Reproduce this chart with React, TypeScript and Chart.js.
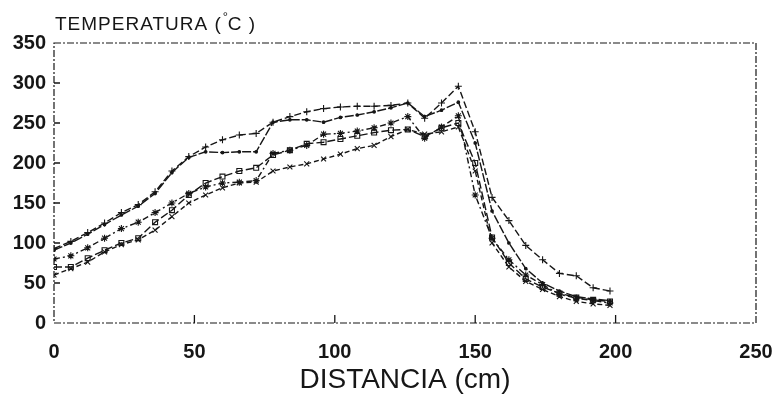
import React, { useEffect, useRef } from "react";
import { Chart, registerables } from "chart.js";

Chart.register(...registerables);

const distances = [0, 6, 12, 18, 24, 30, 36, 42, 48, 54, 60, 66, 72, 78, 84, 90, 96, 102, 108, 114, 120, 126, 132, 138, 144, 150, 156, 162, 168, 174, 180, 186, 192, 198];

const seriesPlus = [93, 102, 113, 125, 138, 148, 164, 190, 208, 220, 229, 235, 237, 251, 258, 264, 268, 270, 271, 271, 272, 275, 256, 275, 296, 239, 157, 128, 97, 79, 62, 59, 44, 40];
const seriesDot = [91, 100, 111, 123, 135, 146, 162, 188, 207, 214, 213, 214, 214, 251, 254, 254, 251, 257, 260, 264, 269, 275, 258, 266, 276, 225, 140, 100, 68, 50, 40, 33, 30, 28];
const seriesStar = [80, 84, 94, 106, 118, 126, 138, 150, 162, 170, 175, 176, 178, 212, 216, 222, 236, 237, 240, 244, 250, 258, 231, 245, 259, 160, 106, 79, 60, 48, 36, 31, 28, 25];
const seriesSquare = [70, 70, 81, 91, 100, 106, 126, 141, 160, 175, 183, 190, 194, 210, 216, 224, 226, 230, 234, 238, 241, 242, 233, 244, 250, 200, 107, 75, 55, 45, 37, 32, 29, 27];
const seriesCross = [60, 68, 76, 89, 98, 104, 116, 133, 150, 160, 169, 175, 176, 190, 195, 199, 205, 211, 218, 222, 233, 242, 236, 239, 245, 190, 100, 70, 52, 42, 33, 27, 24, 22];

const yTicks = [0, 50, 100, 150, 200, 250, 300, 350];
const xTicks = [0, 50, 100, 150, 200, 250];

const INK = "#161616";
const FONT = "'Liberation Sans', Arial, sans-serif";

const framePlugin = {
  id: "frame",
  afterDraw(chart: any) {
    const { ctx, chartArea } = chart;
    const xs = chart.scales.x;
    const ys = chart.scales.y;
    ctx.save();
    ctx.strokeStyle = INK;
    ctx.lineWidth = 1.2;
    ctx.setLineDash([7, 2, 2, 2]);
    ctx.strokeRect(chartArea.left, chartArea.top, chartArea.right - chartArea.left, chartArea.bottom - chartArea.top);
    ctx.setLineDash([]);
    ctx.lineWidth = 1.3;
    ctx.beginPath();
    for (const v of yTicks) {
      if (v === 0 || v === 350) continue;
      const y = ys.getPixelForValue(v);
      ctx.moveTo(chartArea.left, y);
      ctx.lineTo(chartArea.left + 6, y);
    }
    for (const v of xTicks) {
      if (v === 0 || v === 250) continue;
      const x = xs.getPixelForValue(v);
      ctx.moveTo(x, chartArea.bottom);
      ctx.lineTo(x, chartArea.bottom - 8);
    }
    ctx.stroke();
    ctx.fillStyle = INK;
    (ctx as any).letterSpacing = "1px";
    ctx.font = "19px " + FONT;
    ctx.textBaseline = "alphabetic";
    ctx.textAlign = "left";
    const base = "TEMPERATURA (";
    const x0 = chartArea.left + 1;
    const yb = 30;
    ctx.fillText(base, x0, yb);
    const w = ctx.measureText(base).width;
    ctx.font = "13px " + FONT;
    ctx.fillText("°", x0 + w + 1, yb - 9);
    ctx.font = "19px " + FONT;
    ctx.fillText("C )", x0 + w + 6, yb);
    ctx.restore();
  },
};

function mk(label: string, values: number[], style: string, dash: number[], radius: number) {
  return {
    label,
    data: distances.map((d, i) => ({ x: d, y: values[i] })),
    borderColor: INK,
    backgroundColor: style === "circle" ? INK : "rgba(0,0,0,0)",
    borderWidth: 1.4,
    borderDash: dash,
    pointStyle: style,
    pointRadius: radius,
    pointBorderWidth: 1.1,
    pointBorderColor: INK,
    fill: false,
    tension: 0,
  };
}

export default function App() {
  const ref = useRef<HTMLCanvasElement | null>(null);
  useEffect(() => {
    if (!ref.current) return;
    const chart = new Chart(ref.current, {
      type: "line",
      data: {
        datasets: [
          mk("+", seriesPlus, "cross", [7, 3], 3.5),
          mk("dot", seriesDot, "circle", [9, 2], 1.3),
          mk("*", seriesStar, "star", [6, 3, 2, 3], 3.5),
          mk("sq", seriesSquare, "rect", [8, 3], 3.5),
          mk("x", seriesCross, "crossRot", [5, 3], 3.5),
        ] as any,
      },
      options: {
        animation: false,
        responsive: false,
        layout: { padding: { top: 43, right: 20, left: 0, bottom: 0 } },
        plugins: { legend: { display: false }, tooltip: { enabled: false }, title: { display: false } },
        scales: {
          x: {
            type: "linear",
            min: 0,
            max: 250,
            afterBuildTicks: (s: any) => { s.ticks = xTicks.map((v) => ({ value: v })); },
            afterFit: (s: any) => { s.height = 72; s.paddingRight = 0; s.paddingLeft = 0; },
            grid: { display: false, drawTicks: false },
            border: { display: false },
            ticks: { color: INK, padding: 17, font: { size: 20, weight: "bold", family: FONT } },
            title: { display: true, text: "DISTANCIA (cm)", color: INK, padding: { top: 0, bottom: -2 }, font: { size: 28, family: FONT } },
          },
          y: {
            type: "linear",
            min: 0,
            max: 350,
            afterBuildTicks: (s: any) => { s.ticks = yTicks.map((v) => ({ value: v })); },
            afterFit: (s: any) => { s.width = 54; },
            grid: { display: false, drawTicks: false },
            border: { display: false },
            ticks: { color: INK, padding: 8, font: { size: 20, weight: "bold", family: FONT } },
          },
        },
      } as any,
      plugins: [framePlugin],
    });
    return () => chart.destroy();
  }, []);
  return (
    <div style={{ position: "fixed", left: 0, top: 0, width: 776, height: 395, background: "#fff" }}>
      <canvas ref={ref} width={776} height={395} style={{ display: "block" }} />
    </div>
  );
}
